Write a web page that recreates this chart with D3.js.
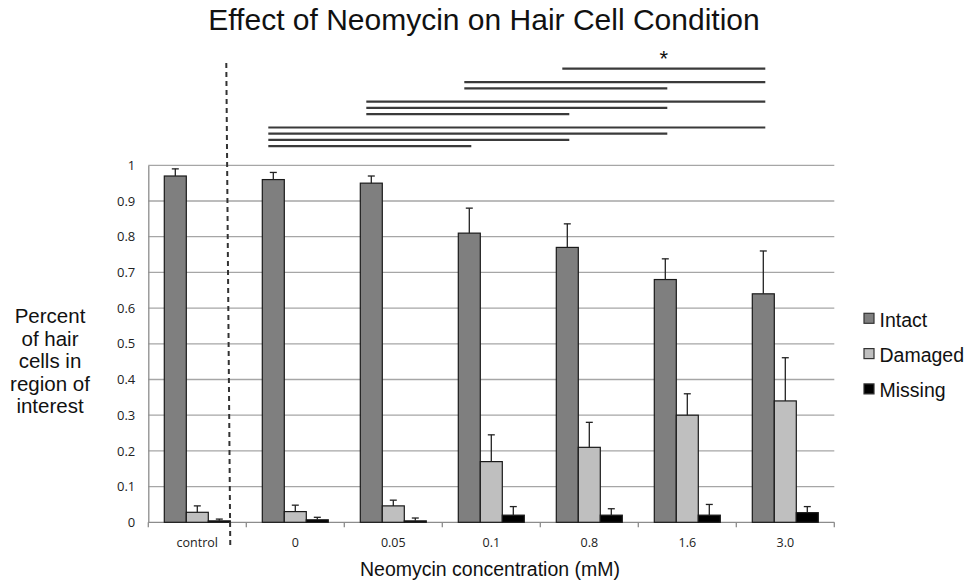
<!DOCTYPE html>
<html>
<head>
<meta charset="utf-8">
<script src="https://cdn.jsdelivr.net/npm/d3@7"></script>
<style>
  html, body { margin: 0; padding: 0; background: #fff; }
  svg { display: block; }
</style>
</head>
<body>
<svg id="chart" width="969" height="588"></svg>
<script>
const categories = ["control", "0", "0.05", "0.1", "0.8", "1.6", "3.0"];
const series = ["Intact", "Damaged", "Missing"];
const intact     = [0.97, 0.96, 0.95, 0.81, 0.77, 0.68, 0.64];
const intactErr  = [0.02, 0.02, 0.02, 0.07, 0.066, 0.058, 0.12];
const damaged    = [0.028, 0.03, 0.046, 0.17, 0.21, 0.30, 0.34];
const damagedErr = [0.018, 0.018, 0.016, 0.075, 0.07, 0.06, 0.121];
const missing    = [0.004, 0.007, 0.004, 0.02, 0.02, 0.02, 0.027];
const missingErr = [0.005, 0.007, 0.008, 0.024, 0.018, 0.03, 0.017];
const yTicks = [0, 0.1, 0.2, 0.3, 0.4, 0.5, 0.6, 0.7, 0.8, 0.9, 1];
const comparisons = [
  ["0.8", "3.0"], ["0.1", "3.0"], ["0.1", "1.6"],
  ["0.05", "3.0"], ["0.05", "1.6"], ["0.05", "0.8"],
  ["0", "3.0"], ["0", "1.6"], ["0", "0.8"], ["0", "0.1"]
];
const starred = [true, false, false, false, false, false, false, false, false, false];
const yLabelLines = ["Percent", "of hair", "cells in", "region of", "interest"];

(function () {
const values = [intact, damaged, missing];
const errors = [intactErr, damagedErr, missingErr];
const colors = ["#7f7f7f", "#bfbfbf", "#000000"];

const svg = d3.select("#chart");
const pLeft = 148.3, pRight = 834.3, pTop = 165.3, pBottom = 522.3;

const x0 = d3.scaleBand().domain(categories).range([pLeft, pRight]).paddingInner(0).paddingOuter(0);
const x1 = d3.scaleBand().domain(series).range([16, x0.bandwidth() - 16]).padding(0);
const y = d3.scaleLinear().domain([0, 1]).range([pBottom, pTop]);
const color = d3.scaleOrdinal().domain(series).range(colors);

const sans = "'Liberation Sans', Arial, sans-serif";
const tickFont = "'Open Sans', sans-serif";

// Title
svg.append("text")
  .attr("x", 484).attr("y", 30)
  .attr("text-anchor", "middle")
  .style("font-family", sans).style("font-size", "30px").style("fill", "#111")
  .text("Effect of Neomycin on Hair Cell Condition");

// Gridlines
svg.append("g").selectAll("line")
  .data(yTicks.filter(d => d > 0))
  .join("line")
  .attr("x1", pLeft).attr("x2", pRight)
  .attr("y1", d => y(d)).attr("y2", d => y(d))
  .attr("stroke", "#a6a6a6").attr("stroke-width", 1.3);

// Y axis
const yAxis = d3.axisLeft(y).tickValues(yTicks).tickSize(0).tickPadding(13)
  .tickFormat(d => d3.format("")(d));
const gy = svg.append("g").attr("transform", `translate(${pLeft},0)`).call(yAxis);
gy.select(".domain").attr("stroke", "#8c8c8c").attr("stroke-width", 1.3);
gy.selectAll("text").style("font-family", tickFont).style("font-size", "13px").style("fill", "#222");

// X axis
const gx = svg.append("g").attr("transform", `translate(0,${pBottom})`);
gx.append("line").attr("x1", pLeft).attr("x2", pRight).attr("y1", 0).attr("y2", 0)
  .attr("stroke", "#8c8c8c").attr("stroke-width", 1.3);
gx.selectAll("line.tick")
  .data(categories.concat(["__end"]))
  .join("line").attr("class", "tick")
  .attr("x1", (d, i) => i < categories.length ? x0(d) : pRight)
  .attr("x2", (d, i) => i < categories.length ? x0(d) : pRight)
  .attr("y1", 0).attr("y2", 5)
  .attr("stroke", "#8c8c8c").attr("stroke-width", 1.3);
gx.selectAll("text")
  .data(categories)
  .join("text")
  .attr("x", d => x0(d) + x0.bandwidth() / 2)
  .attr("y", 24.5)
  .attr("text-anchor", "middle")
  .style("font-family", tickFont).style("font-size", "12.5px").style("fill", "#222")
  .text(d => d);

// Bars
const groups = svg.append("g").selectAll("g")
  .data(categories)
  .join("g")
  .attr("transform", d => `translate(${x0(d)},0)`);

groups.selectAll("rect")
  .data((d, i) => series.map((s, k) => ({ s, v: values[k][i], e: errors[k][i] })))
  .join("rect")
  .attr("x", d => x1(d.s))
  .attr("width", x1.bandwidth())
  .attr("y", d => y(d.v))
  .attr("height", d => y(0) - y(d.v))
  .attr("fill", d => color(d.s))
  .attr("stroke", "#1a1a1a").attr("stroke-width", 1.2);

// Error bars (upper only)
const eb = groups.selectAll("g.err")
  .data((d, i) => series.map((s, k) => ({ s, v: values[k][i], e: errors[k][i] })))
  .join("g").attr("class", "err");
eb.append("line")
  .attr("x1", d => x1(d.s) + x1.bandwidth() / 2)
  .attr("x2", d => x1(d.s) + x1.bandwidth() / 2)
  .attr("y1", d => y(d.v)).attr("y2", d => y(d.v + d.e))
  .attr("stroke", "#222").attr("stroke-width", 1.3);
eb.append("line")
  .attr("x1", d => x1(d.s) + x1.bandwidth() / 2 - 3.5)
  .attr("x2", d => x1(d.s) + x1.bandwidth() / 2 + 3.5)
  .attr("y1", d => y(d.v + d.e)).attr("y2", d => y(d.v + d.e))
  .attr("stroke", "#222").attr("stroke-width", 1.3);

// Dashed separator after control group
const sepX = x0("control") + x1("Missing") + x1.bandwidth();
svg.append("line")
  .attr("x1", sepX - 4).attr("y1", 63)
  .attr("x2", sepX).attr("y2", 549)
  .attr("stroke", "#333").attr("stroke-width", 2)
  .attr("stroke-dasharray", "5,4");

// Significance lines
const cx = c => x0(c) + x1("Intact") + x1.bandwidth() / 2;
let yy = 68.7;
const sigY = comparisons.map((c, i) => {
  if (i > 0) yy += (c[0] === comparisons[i - 1][0]) ? 6.2 : 13.4;
  return yy;
});
svg.append("g").selectAll("line")
  .data(comparisons)
  .join("line")
  .attr("x1", d => cx(d[0]) - 5).attr("x2", d => cx(d[1]) + 2)
  .attr("y1", (d, i) => sigY[i]).attr("y2", (d, i) => sigY[i])
  .attr("stroke", "#3a3a3a").attr("stroke-width", 2.2);
svg.append("g").selectAll("text")
  .data(comparisons.filter((d, i) => starred[i]))
  .join("text")
  .attr("x", d => (cx(d[0]) - 5 + cx(d[1]) + 2) / 2)
  .attr("y", sigY[0] - 3)
  .attr("text-anchor", "middle")
  .style("font-family", sans).style("font-size", "22px").style("fill", "#111")
  .text("*");

// Y axis label
svg.append("g").selectAll("text")
  .data(yLabelLines)
  .join("text")
  .attr("x", 50).attr("y", (d, i) => 323 + i * 22.6)
  .attr("text-anchor", "middle")
  .style("font-family", sans).style("font-size", "20.5px").style("fill", "#111")
  .text(d => d);

// X axis title
svg.append("text")
  .attr("x", 490).attr("y", 576)
  .attr("text-anchor", "middle")
  .style("font-family", sans).style("font-size", "19.5px").style("fill", "#111")
  .text("Neomycin concentration (mM)");

// Legend
const lg = svg.append("g").selectAll("g")
  .data(series)
  .join("g")
  .attr("transform", (d, i) => `translate(864,${313.3 + i * 35.3})`);
lg.append("rect").attr("width", 10).attr("height", 10)
  .attr("fill", d => color(d)).attr("stroke", "#333").attr("stroke-width", 1.2);
lg.append("text").attr("x", 15.5).attr("y", 13.4)
  .style("font-family", sans).style("font-size", "19.5px").style("fill", "#111")
  .text(d => d);
})();
</script>
</body>
</html>
